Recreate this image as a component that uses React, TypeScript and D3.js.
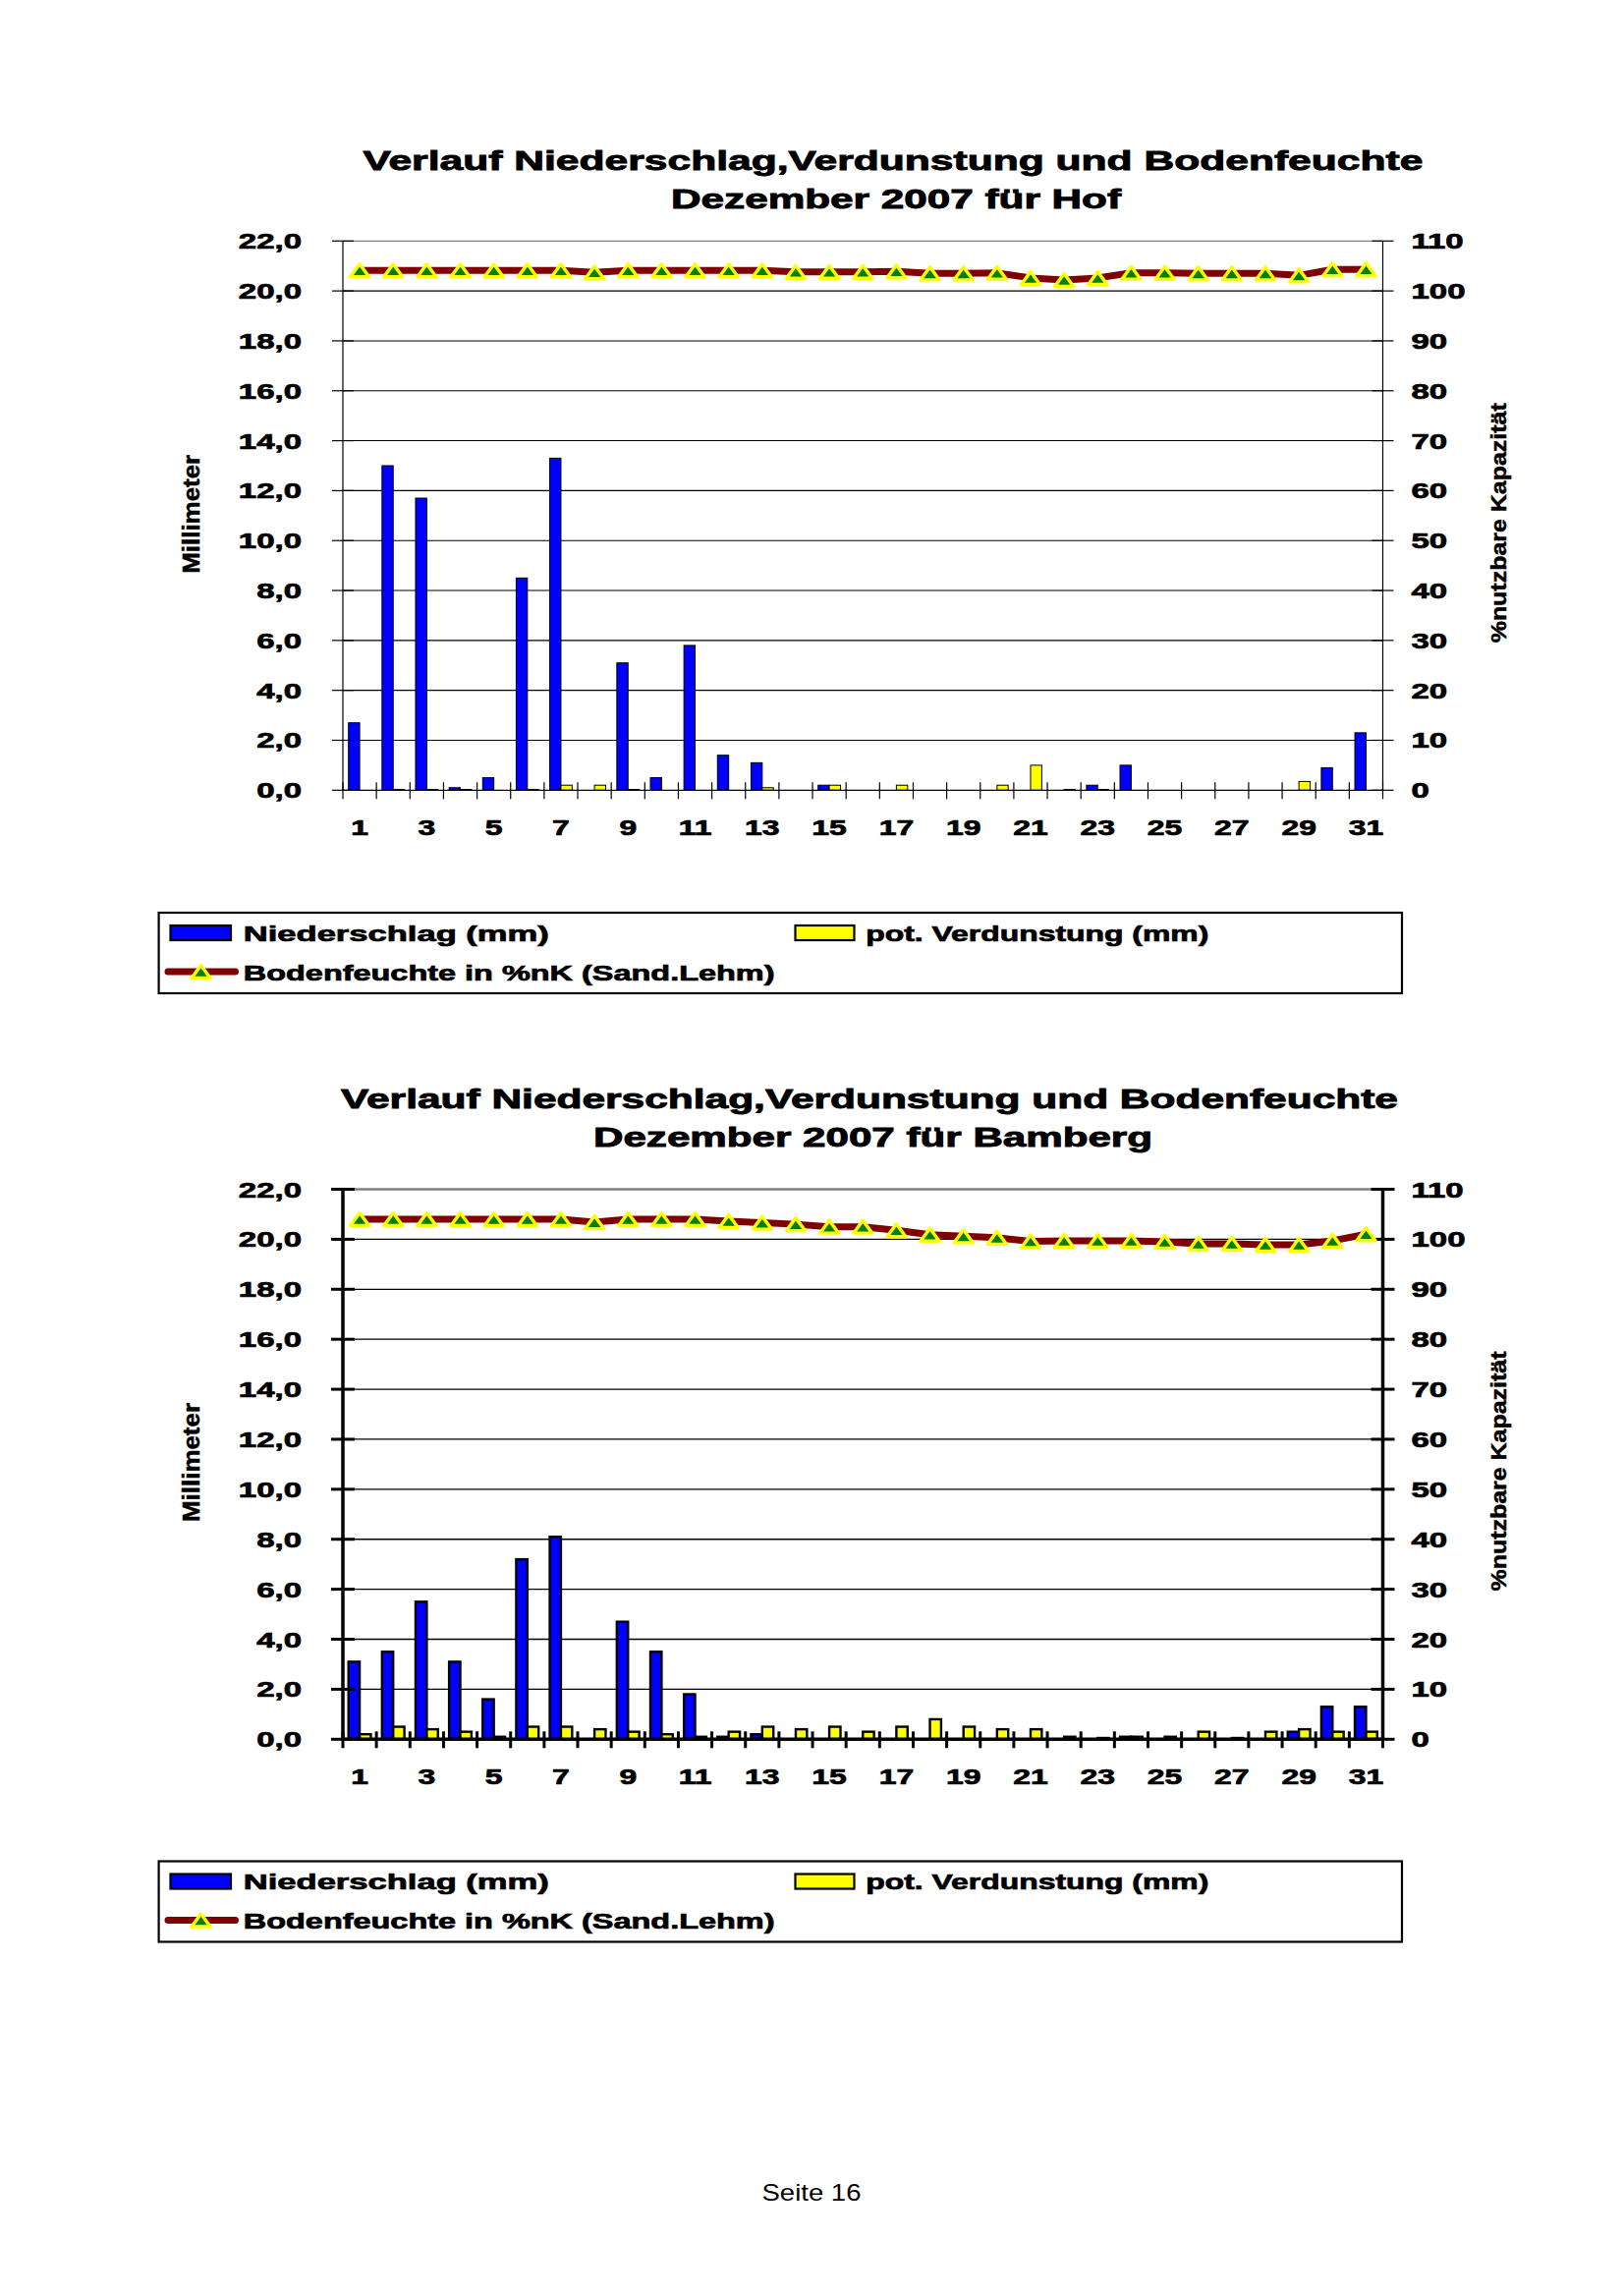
import React from "react";
import * as d3 from "d3";

// ---------- data ----------
const days = [1, 2, 3, 4, 5, 6, 7, 8, 9, 10, 11, 12, 13, 14, 15, 16, 17, 18, 19, 20, 21, 22, 23, 24, 25, 26, 27, 28, 29, 30, 31];
const xLabelDays = [1, 3, 5, 7, 9, 11, 13, 15, 17, 19, 21, 23, 25, 27, 29, 31];
const leftTicks = [0, 2, 4, 6, 8, 10, 12, 14, 16, 18, 20, 22];
const rightTicks = [0, 10, 20, 30, 40, 50, 60, 70, 80, 90, 100, 110];

const hofNiederschlag = [2.7, 13.0, 11.7, 0.1, 0.5, 8.5, 13.3, 0, 5.1, 0.5, 5.8, 1.4, 1.1, 0, 0.2, 0, 0, 0, 0, 0, 0, 0, 0.2, 1.0, 0, 0, 0, 0, 0, 0.9, 2.3];
const hofVerdunstung = [0, 0.03, 0.03, 0.03, 0, 0.03, 0.2, 0.2, 0.03, 0, 0, 0, 0.1, 0, 0.2, 0, 0.2, 0, 0, 0.2, 1.0, 0.03, 0.03, 0, 0, 0, 0, 0, 0.35, 0, 0];
const hofBodenfeuchte = [104.1, 104.1, 104.1, 104.1, 104.1, 104.1, 104.1, 103.7, 104.1, 104.1, 104.1, 104.1, 104.1, 103.8, 103.8, 103.8, 103.9, 103.5, 103.5, 103.6, 102.6, 102.2, 102.6, 103.6, 103.6, 103.5, 103.5, 103.5, 103.1, 104.3, 104.3];

const bambergNiederschlag = [3.1, 3.5, 5.5, 3.1, 1.6, 7.2, 8.1, 0, 4.7, 3.5, 1.8, 0.1, 0.2, 0, 0, 0, 0, 0, 0, 0, 0, 0, 0, 0.1, 0, 0, 0, 0, 0.3, 1.3, 1.3];
const bambergVerdunstung = [0.2, 0.5, 0.4, 0.3, 0.1, 0.5, 0.5, 0.4, 0.3, 0.2, 0.1, 0.3, 0.5, 0.4, 0.5, 0.3, 0.5, 0.8, 0.5, 0.4, 0.4, 0.1, 0.05, 0.1, 0.1, 0.3, 0.05, 0.3, 0.4, 0.3, 0.3];
const bambergBodenfeuchte = [104.0, 104.0, 104.0, 104.0, 104.0, 104.0, 104.0, 103.4, 104.0, 104.0, 104.0, 103.6, 103.3, 103.0, 102.5, 102.5, 101.8, 100.9, 100.6, 100.3, 99.6, 99.7, 99.7, 99.7, 99.5, 99.1, 99.1, 98.9, 98.9, 99.7, 101.0];

const titleLine1 = "Verlauf Niederschlag,Verdunstung und Bodenfeuchte";
const legendLabels = ["Niederschlag (mm)", "pot. Verdunstung (mm)", "Bodenfeuchte in %nK (Sand.Lehm)"];

// ---------- styles ----------
const FONT = "'Liberation Sans', Arial, Helvetica, sans-serif";
const BLUE = "#0000ff";
const YELLOW = "#ffff00";
const DARKRED = "#800000";
const GREEN = "#008000";
const HEAVY = 0.7;

const fmt = (v: number) => v.toFixed(1).replace(".", ",");

function Marker({ cx, cy }: { cx: number; cy: number }) {
  const hw = 9.5, hh = 6.5;
  return (
    <polygon
      points={`${cx},${cy - hh} ${cx + hw},${cy + hh} ${cx - hw},${cy + hh}`}
      fill={GREEN}
      stroke={YELLOW}
      strokeWidth={3.4}
      strokeLinejoin="round"
    />
  );
}

function TextL({ x, y, len, size = 22, weight = "bold", anchor = "start", heavy = HEAVY, children }: any) {
  return (
    <text x={x} y={y} textLength={len} lengthAdjust="spacingAndGlyphs" fontSize={size} fontWeight={weight} fontFamily={FONT} textAnchor={anchor} fill="#000" stroke="#000" strokeWidth={heavy}>
      {children}
    </text>
  );
}

function Chart({ cfg }: any) {
  const { top, bottom, left, right, thick, rain, evap, soil, station, t1, t2 } = cfg;
  const x = d3.scaleBand<string>().domain(days.map(String)).range([left, right]).paddingInner(0).paddingOuter(0);
  const yL = d3.scaleLinear().domain([0, 22]).range([bottom, top]);
  const yR = d3.scaleLinear().domain([0, 110]).range([bottom, top]);
  const bw = x.bandwidth() / 3;
  const axisW = thick ? 3.5 : 1.2;
  const tickW = thick ? 3 : 1.2;
  const barStroke = thick ? 2.4 : 1;
  const gridW = thick ? 1.3 : 1.1;
  const tickLen = thick ? 12 : 11;

  const line = d3
    .line<number>()
    .x((_, i) => (x(String(days[i])) as number) + x.bandwidth() / 2)
    .y((v) => yR(v));

  const sx = 1.5;

  return (
    <g>
      {/* title */}
      <TextL x={t1.x} y={t1.y} len={t1.len} size={28} heavy={0.9}>{titleLine1}</TextL>
      <TextL x={t2.x} y={t2.y} len={t2.len} size={28} heavy={0.9}>{`Dezember 2007 für ${station}`}</TextL>

      {/* gridlines */}
      {leftTicks.filter((t) => t > 0 && t < 22).map((t) => (
        <line key={"g" + t} x1={left} x2={right} y1={yL(t)} y2={yL(t)} stroke="#000" strokeWidth={gridW} />
      ))}
      <line x1={left} x2={right} y1={yL(22)} y2={yL(22)} stroke="#808080" strokeWidth={thick ? 2.5 : 1.2} />

      {/* bars */}
      {days.map((d, i) => {
        const bx = (x(String(d)) as number) + bw / 2;
        const r = rain[i];
        const e = evap[i];
        return (
          <g key={"b" + d}>
            {r > 0 && (
              <rect x={bx} y={yL(r)} width={bw} height={bottom - yL(r)} fill={BLUE} stroke="#000" strokeWidth={barStroke} />
            )}
            {e > 0 && (
              <rect x={bx + bw} y={yL(e)} width={bw} height={bottom - yL(e)} fill={YELLOW} stroke="#000" strokeWidth={barStroke} />
            )}
          </g>
        );
      })}

      {/* axes */}
      <line x1={left} x2={left} y1={top} y2={bottom} stroke="#000" strokeWidth={axisW} />
      <line x1={right} x2={right} y1={top} y2={bottom} stroke="#000" strokeWidth={axisW} />
      <line x1={left} x2={right} y1={bottom} y2={bottom} stroke="#000" strokeWidth={axisW} />
      {leftTicks.map((t) => (
        <line key={"lt" + t} x1={left - tickLen} x2={left + tickLen} y1={yL(t)} y2={yL(t)} stroke="#000" strokeWidth={tickW} />
      ))}
      {rightTicks.map((t) => (
        <line key={"rt" + t} x1={right - tickLen} x2={right + tickLen} y1={yR(t)} y2={yR(t)} stroke="#000" strokeWidth={tickW} />
      ))}
      {[...days, 32].map((d, i) => {
        const xx = left + i * x.bandwidth();
        return <line key={"xt" + d} x1={xx} x2={xx} y1={bottom - 8} y2={bottom + 9} stroke="#000" strokeWidth={tickW} />;
      })}

      {/* soil moisture line */}
      <path d={line(soil) as string} fill="none" stroke={DARKRED} strokeWidth={7} strokeLinejoin="round" />
      {soil.map((v: number, i: number) => (
        <Marker key={"m" + i} cx={(x(String(days[i])) as number) + x.bandwidth() / 2} cy={yR(v)} />
      ))}

      {/* tick labels */}
      {leftTicks.map((t) => (
        <text key={"ll" + t} transform={`translate(${left - 42},${yL(t) + 8}) scale(${sx},1)`} textAnchor="end" fontSize={22} fontWeight="bold" fontFamily={FONT} stroke="#000" strokeWidth={HEAVY}>
          {fmt(t)}
        </text>
      ))}
      {rightTicks.map((t) => (
        <text key={"rl" + t} transform={`translate(${right + 29},${yR(t) + 8}) scale(${sx},1)`} textAnchor="start" fontSize={22} fontWeight="bold" fontFamily={FONT} stroke="#000" strokeWidth={HEAVY}>
          {t}
        </text>
      ))}
      {xLabelDays.map((d) => (
        <text key={"xl" + d} transform={`translate(${(x(String(d)) as number) + x.bandwidth() / 2},${bottom + 46}) scale(1.45,1)`} textAnchor="middle" fontSize={22} fontWeight="bold" fontFamily={FONT} stroke="#000" strokeWidth={HEAVY}>
          {d}
        </text>
      ))}

      {/* axis titles */}
      <text transform={`translate(203,${top + 278}) rotate(-90)`} textAnchor="middle" fontSize={23} fontWeight="bold" fontFamily={FONT} textLength={121} lengthAdjust="spacingAndGlyphs" stroke="#000" strokeWidth={0.5}>
        Millimeter
      </text>
      <text transform={`translate(1533,${top + 287}) rotate(-90)`} textAnchor="middle" fontSize={22} fontWeight="bold" fontFamily={FONT} textLength={244} lengthAdjust="spacingAndGlyphs" stroke="#000" strokeWidth={0.5}>
        %nutzbare Kapazität
      </text>
    </g>
  );
}

function Legend({ y0 }: { y0: number }) {
  return (
    <g transform={`translate(0,${y0})`}>
      <rect x={161.6} y={0} width={1265.4} height={82} fill="#fff" stroke="#000" strokeWidth={2.2} />
      <rect x={173.5} y={13} width={61.5} height={15} fill={BLUE} stroke="#000" strokeWidth={2.2} />
      <TextL x={247.8} y={28.5} len={311} size={22}>{legendLabels[0]}</TextL>
      <rect x={809.5} y={13} width={60} height={15} fill={YELLOW} stroke="#000" strokeWidth={2.2} />
      <TextL x={881.3} y={28.5} len={349} size={22}>{legendLabels[1]}</TextL>
      <line x1={171} x2={239.5} y1={60} y2={60} stroke={DARKRED} strokeWidth={7} strokeLinecap="round" />
      <Marker cx={204.5} cy={60} />
      <TextL x={247.8} y={68.5} len={540.7} size={22}>{legendLabels[2]}</TextL>
    </g>
  );
}

export default function App() {
  const chart1 = {
    top: 245.3, bottom: 804.3, left: 349, right: 1407.5, thick: false,
    rain: hofNiederschlag, evap: hofVerdunstung, soil: hofBodenfeuchte, station: "Hof",
    t1: { x: 369.4, y: 173.3, len: 1079 },
    t2: { x: 683, y: 211.7, len: 458 },
  };
  const chart2 = {
    top: 1210.5, bottom: 1770.3, left: 349, right: 1407.5, thick: true,
    rain: bambergNiederschlag, evap: bambergVerdunstung, soil: bambergBodenfeuchte, station: "Bamberg",
    t1: { x: 347, y: 1128.3, len: 1076 },
    t2: { x: 604, y: 1166.7, len: 569 },
  };
  return (
    <svg width={1653} height={2337} style={{ position: "absolute", left: 0, top: 0, background: "#fff" }}>
      <rect x={0} y={0} width={1653} height={2337} fill="#fff" />
      <Chart cfg={chart1} />
      <Legend y0={929} />
      <Chart cfg={chart2} />
      <Legend y0={1894.5} />
      <TextL x={826} y={2240} len={101} size={24} weight="normal" anchor="middle" heavy={0}>Seite 16</TextL>
    </svg>
  );
}
